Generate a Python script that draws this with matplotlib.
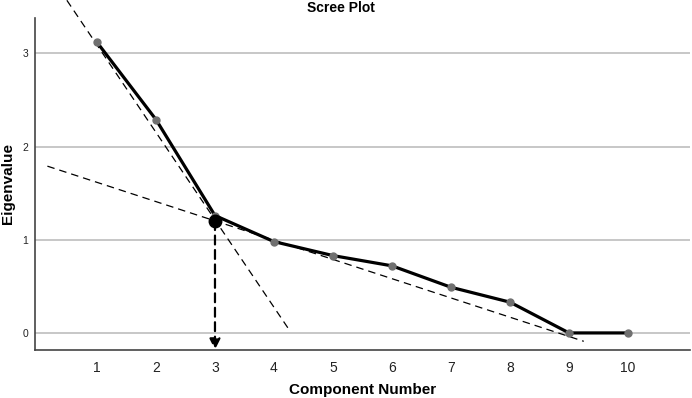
import matplotlib
matplotlib.use("Agg")
import matplotlib.pyplot as plt

components = [1, 2, 3, 4, 5, 6, 7, 8, 9, 10]
eigenvalues = [3.12, 2.29, 1.26, 0.98, 0.83, 0.72, 0.49, 0.33, 0.0, 0.0]
steep_x = [0.49, 4.24]
steep_y = [3.57, 0.05]
shallow_x = [0.16, 9.25]
shallow_y = [1.79, -0.09]
elbow_x = 3
elbow_y = 1.20
y_ticks = [0, 1, 2, 3]

plt.rcParams['font.family'] = ['Liberation Sans', 'DejaVu Sans']

fig = plt.figure(figsize=(6.92, 3.98), dpi=100)
ax_h = (349.7 - 18) / 398
ax = fig.add_axes([35/692, 1-349.7/398, (690-35)/692, ax_h])
ax.set_xlim(-0.05, 11.05)
ax.set_ylim(-0.18, 3.38)

for yv in y_ticks:
    ax.axhline(yv, color='#bdbdbd', lw=1.2, zorder=1)

ax.plot(steep_x, steep_y, color='black', lw=0.9, ls=(0, (6, 4)), zorder=2, clip_on=False)
ax.plot(shallow_x, shallow_y, color='black', lw=0.9, ls=(0, (6, 4)), zorder=2, clip_on=False)
ax.plot(components, eigenvalues, color='black', lw=2.3, zorder=3)
ax.plot(components, eigenvalues, ls='none', marker='o', ms=5, color='#707070', zorder=4)
ax.plot([elbow_x], [elbow_y], marker='o', ms=9, color='black', zorder=5)
ax.annotate('', xy=(elbow_x, -0.18), xytext=(elbow_x, elbow_y),
            arrowprops=dict(arrowstyle='-|>', color='black', lw=1.6, ls=(0, (4, 2.5)),
                            mutation_scale=16, shrinkA=0, shrinkB=0), zorder=5)

ax.set_xticks(components)
ax.set_xticklabels([str(c) for c in components], fontsize=10, color='#222222')
ax.set_yticks(y_ticks)
ax.set_yticklabels([str(v) for v in y_ticks], fontsize=7.5, color='#222222')
ax.tick_params(axis='both', length=0)
ax.tick_params(axis='x', pad=8)
ax.tick_params(axis='y', pad=5)

for s in ['top', 'right']:
    ax.spines[s].set_visible(False)
for s in ['left', 'bottom']:
    ax.spines[s].set_color('#444444')
    ax.spines[s].set_linewidth(1.2)

ax.set_xlabel('Component Number', fontsize=11, fontweight='bold')
ax.set_ylabel('Eigenvalue', fontsize=11, fontweight='bold')
ax.xaxis.set_label_coords(0.5, -(390 - 349.7) / 331.7)
ax.xaxis.label.set_va('center')
ax.yaxis.set_label_coords(-(35 - 8) / 655, 0.5)
ax.yaxis.label.set_va('center')
fig.text(341/692, 1-8/398, 'Scree Plot', ha='center', va='center', fontsize=10, fontweight='bold')

fig.savefig('out.png', dpi=100)
